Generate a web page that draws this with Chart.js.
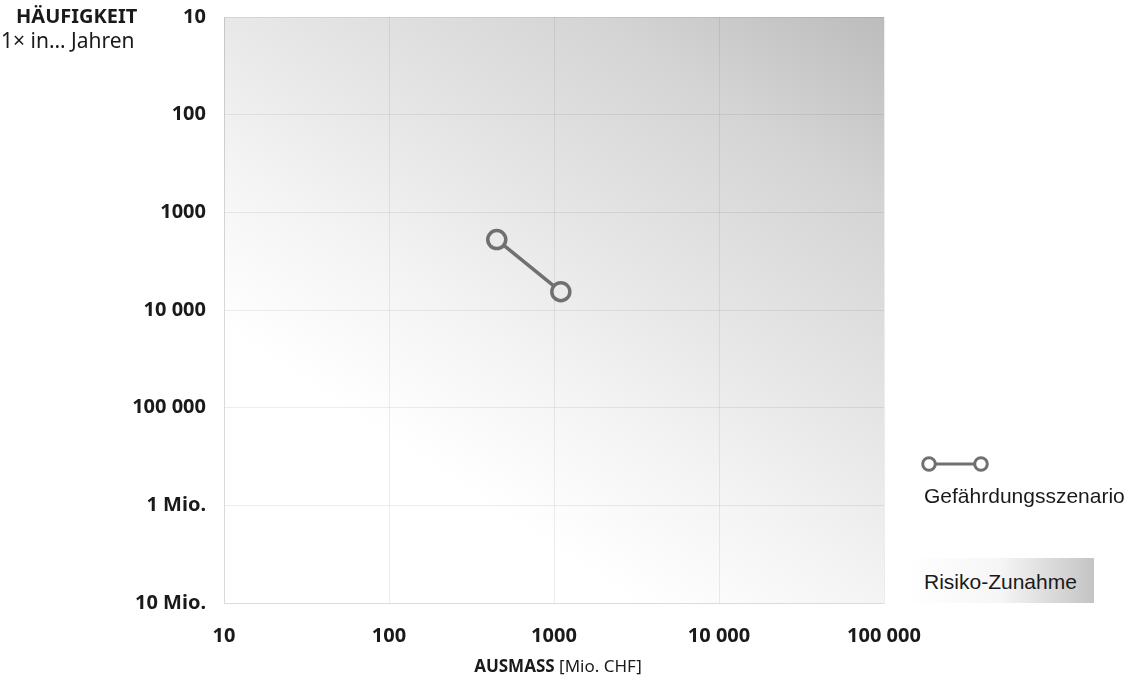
<!DOCTYPE html>
<html>
<head>
<meta charset="utf-8">
<script src="https://cdn.jsdelivr.net/npm/chart.js@4"></script>
<style>
  html, body { margin: 0; padding: 0; background: #fff; }
  #wrap { position: relative; width: 1136px; height: 696px; }
  #chart { position: absolute; left: 0; top: 0; }
  .lbl { position: absolute; color: #1a1a1a; white-space: nowrap; }
  .sans { font-family: "Noto Sans", sans-serif; }
  .arial { font-family: "Liberation Sans", Arial, sans-serif; }
</style>
</head>
<body>
<div id="wrap">
  <canvas id="chart" width="1136" height="696"></canvas>

  <div class="lbl sans" style="left:16px; top:4px; font-size:20px; font-weight:bold; line-height:24px;">HÄUFIGKEIT</div>
  <div class="lbl sans" style="left:1px; top:28px; font-size:21px; line-height:24px;">1× in… Jahren</div>

  <div class="lbl sans" style="left:0; width:1116px; top:654px; text-align:center; font-size:17px; line-height:24px;">
    <b>AUSMASS</b> [Mio. CHF]
  </div>

  <svg class="lbl" style="left:917px; top:453px;" width="80" height="22">
    <line x1="12" y1="11" x2="64" y2="11" stroke="#707070" stroke-width="3"/>
    <circle cx="12" cy="11" r="6.3" fill="#fff" stroke="#707070" stroke-width="3"/>
    <circle cx="64" cy="11" r="6.3" fill="#fff" stroke="#707070" stroke-width="3"/>
  </svg>
  <div class="lbl arial" style="left:924px; top:483px; font-size:21px; line-height:26px;">Gefährdungsszenario</div>

  <div class="lbl" style="left:905px; top:558px; width:189px; height:45px; background:linear-gradient(to right, #ffffff 0%, #f6f6f6 50%, #c4c4c4 100%);"></div>
  <div class="lbl arial" style="left:924px; top:569px; font-size:21px; line-height:26px;">Risiko-Zunahme</div>
</div>

<script>
// scenario: Ausmass (Mio. CHF) vs. Häufigkeit (1x in ... Jahren)
var ausmass = [450, 1100];
var haeufigkeit = [1900, 6500];

var xTicks = [10, 100, 1000, 10000, 100000];
var xTickLabels = ['10', '100', '1000', '10 000', '100 000'];
var yTicks = [10, 100, 1000, 10000, 100000, 1000000, 10000000];
var yTickLabels = ['10', '100', '1000', '10 000', '100 000', '1 Mio.', '10 Mio.'];

var points = ausmass.map(function(v, i) { return { x: v, y: haeufigkeit[i] }; });

// grey background, white lower left, darker to the upper right
var bgPlugin = {
    id: 'bgGradient',
    beforeDraw: function(chart) {
        var a = chart.chartArea, ctx = chart.ctx;
        var w = a.right - a.left, h = a.bottom - a.top;
        var u = 1, v = 1.33, pMax = u + v;
        var dx = u / w, dy = -v / h;
        var k = pMax / (dx * dx + dy * dy);
        var g = ctx.createLinearGradient(a.left, a.bottom, a.left + dx * k, a.bottom + dy * k);
        g.addColorStop(0, '#ffffff');
        g.addColorStop(0.62 / pMax, '#ffffff');
        g.addColorStop(1.0 / pMax, '#f4f4f4');
        g.addColorStop(1.33 / pMax, '#e8e8e8');
        g.addColorStop(1.9 / pMax, '#d4d4d4');
        g.addColorStop(1, '#bcbcbc');
        ctx.save();
        ctx.fillStyle = g;
        ctx.fillRect(a.left, a.top, w, h);
        ctx.restore();
    }
};

var ctx = document.getElementById('chart').getContext('2d');
var chart = new Chart(ctx, {
    type: 'scatter',
    data: {
        datasets: [{
            label: 'Gefährdungsszenario',
            data: points,
            showLine: true,
            borderColor: '#707070',
            borderWidth: 3.5,
            pointRadius: 9,
            pointBorderWidth: 3.5,
            pointBorderColor: '#707070',
            pointBackgroundColor: '#ebebeb',
            pointHoverRadius: 9
        }]
    },
    options: {
        responsive: false,
        animation: false,
        layout: { padding: { top: 17, right: 252, bottom: 0, left: 0 } },
        plugins: {
            legend: { display: false },
            tooltip: { enabled: false }
        },
        scales: {
            x: {
                type: 'logarithmic',
                min: 10,
                max: 100000,
                afterBuildTicks: function(scale) {
                    scale.ticks = xTicks.map(function(v) { return { value: v }; });
                },
                afterFit: function(scale) {
                    scale.height = 93;
                    scale.paddingLeft = 0;
                    scale.paddingRight = 0;
                },
                grid: { color: 'rgba(0,0,0,0.07)', drawTicks: false },
                border: { display: true, color: 'rgba(0,0,0,0.08)' },
                ticks: {
                    padding: 21,
                    color: '#1a1a1a',
                    maxRotation: 0,
                    autoSkip: false,
                    font: { family: 'Noto Sans', size: 20, weight: 'bold' },
                    callback: function(value) {
                        var i = xTicks.indexOf(value);
                        return i >= 0 ? xTickLabels[i] : '';
                    }
                }
            },
            y: {
                type: 'logarithmic',
                reverse: true,
                min: 10,
                max: 10000000,
                afterBuildTicks: function(scale) {
                    scale.ticks = yTicks.map(function(v) { return { value: v }; });
                },
                afterFit: function(scale) {
                    scale.width = 224;
                    scale.paddingTop = 0;
                    scale.paddingBottom = 0;
                },
                grid: { color: 'rgba(0,0,0,0.07)', drawTicks: false },
                border: { display: true, color: 'rgba(0,0,0,0.08)' },
                ticks: {
                    padding: 18,
                    color: '#1a1a1a',
                    autoSkip: false,
                    font: { family: 'Noto Sans', size: 20, weight: 'bold' },
                    callback: function(value) {
                        var i = yTicks.indexOf(value);
                        return i >= 0 ? yTickLabels[i] : '';
                    }
                }
            }
        }
    },
    plugins: [bgPlugin]
});
</script>
</body>
</html>
